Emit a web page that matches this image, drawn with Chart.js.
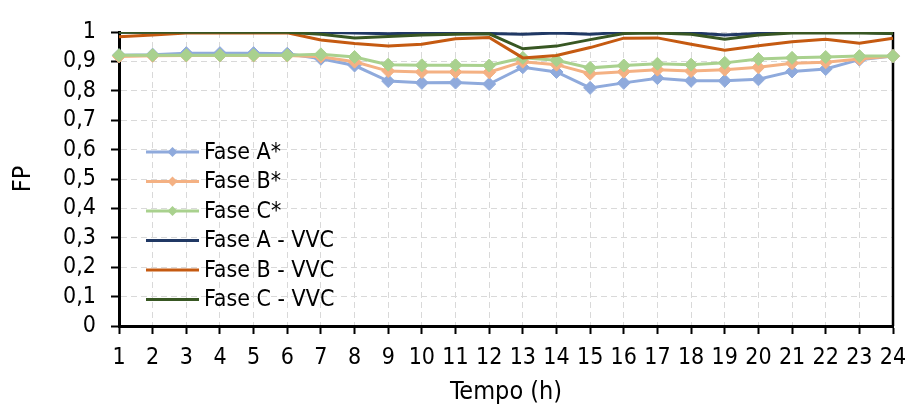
<!DOCTYPE html>
<html>
<head>
<meta charset="utf-8">
<script src="https://cdn.jsdelivr.net/npm/chart.js@4.4.1/dist/chart.umd.min.js"></script>
<style>
  html, body { margin: 0; padding: 0; background: #fff; }
  #wrap { width: 909px; height: 410px; }
</style>
</head>
<body>
<div id="wrap"><canvas id="fpChart" width="909" height="410"></canvas></div>
<script>
// Hours of the day
const hours = ['1','2','3','4','5','6','7','8','9','10','11','12','13','14','15','16','17','18','19','20','21','22','23','24'];

// Power factor per phase, base case
const faseA = [0.921,0.923,0.928,0.928,0.928,0.926,0.909,0.886,0.833,0.827,0.828,0.823,0.880,0.864,0.810,0.827,0.843,0.834,0.834,0.839,0.866,0.874,0.906,0.918];
const faseB = [0.917,0.919,0.920,0.920,0.920,0.920,0.916,0.899,0.867,0.864,0.864,0.863,0.899,0.889,0.858,0.865,0.872,0.867,0.872,0.880,0.894,0.897,0.908,0.918];
const faseC = [0.921,0.921,0.921,0.921,0.921,0.921,0.924,0.915,0.889,0.887,0.887,0.886,0.912,0.904,0.878,0.886,0.892,0.889,0.895,0.908,0.912,0.915,0.918,0.918];

// Power factor per phase with VVC
const faseAvvc = [0.999,0.999,0.999,0.999,0.999,0.999,0.999,0.997,0.994,0.997,0.997,0.995,0.992,0.997,0.992,0.999,0.998,0.997,0.990,0.995,0.999,0.999,0.999,0.995];
const faseBvvc = [0.984,0.990,0.997,0.997,0.997,0.997,0.973,0.961,0.952,0.958,0.977,0.981,0.912,0.920,0.947,0.979,0.980,0.958,0.938,0.953,0.967,0.975,0.962,0.979];
const faseCvvc = [0.999,0.999,0.999,0.999,0.999,0.999,0.992,0.980,0.985,0.990,0.992,0.994,0.943,0.952,0.974,0.995,0.997,0.992,0.975,0.990,0.997,0.997,0.997,0.995];

const yTicks = [0, 0.1, 0.2, 0.3, 0.4, 0.5, 0.6, 0.7, 0.8, 0.9, 1];

const FONT = '"DejaVu Sans Condensed", "Liberation Sans Narrow", sans-serif';

const seriesDefs = [
  { label: 'Fase A*', data: faseA, color: '#8faadc', marker: true },
  { label: 'Fase B*', data: faseB, color: '#f4b183', marker: true },
  { label: 'Fase C*', data: faseC, color: '#a9d18e', marker: true },
  { label: 'Fase A - VVC', data: faseAvvc, color: '#203864', marker: false },
  { label: 'Fase B - VVC', data: faseBvvc, color: '#c55a11', marker: false },
  { label: 'Fase C - VVC', data: faseCvvc, color: '#385723', marker: false }
];

const datasets = seriesDefs.map((s, i) => ({
  label: s.label,
  data: s.data,
  borderColor: s.color,
  backgroundColor: s.color,
  borderWidth: 3,
  tension: 0,
  pointStyle: 'rectRot',
  pointRadius: s.marker ? 6.5 : 0,
  pointBorderWidth: 1,
  pointHoverRadius: 0,
  order: seriesDefs.length - i // later series painted on top
}));

// Legend drawn inside the plot, upper left
const insideLegend = {
  id: 'insideLegend',
  afterDraw(chart) {
    const ctx = chart.ctx;
    const x0 = 146, x1 = 199, tx = 204, y0 = 152, step = 29.5;
    ctx.save();
    ctx.font = '23px ' + FONT;
    ctx.textBaseline = 'middle';
    seriesDefs.forEach((s, i) => {
      const y = y0 + i * step;
      ctx.strokeStyle = s.color;
      ctx.lineWidth = 3;
      ctx.beginPath();
      ctx.moveTo(x0, y);
      ctx.lineTo(x1, y);
      ctx.stroke();
      if (s.marker) {
        ctx.fillStyle = s.color;
        ctx.beginPath();
        const cx = (x0 + x1) / 2;
        ctx.moveTo(cx, y - 5);
        ctx.lineTo(cx + 5, y);
        ctx.lineTo(cx, y + 5);
        ctx.lineTo(cx - 5, y);
        ctx.closePath();
        ctx.fill();
      }
      ctx.fillStyle = '#000';
      ctx.fillText(s.label, tx, y + 1);
    });
    ctx.restore();
  }
};

// Right-hand frame line
const rightFrame = {
  id: 'rightFrame',
  beforeDatasetsDraw(chart) {
    const a = chart.chartArea;
    const ctx = chart.ctx;
    ctx.save();
    ctx.strokeStyle = '#000';
    ctx.lineWidth = 2.5;
    ctx.beginPath();
    ctx.moveTo(a.right, a.top);
    ctx.lineTo(a.right, a.bottom);
    ctx.stroke();
    ctx.restore();
  }
};

new Chart(document.getElementById('fpChart'), {
  type: 'line',
  data: { labels: hours, datasets: datasets },
  plugins: [insideLegend, rightFrame],
  options: {
    responsive: false,
    animation: false,
    layout: { padding: { top: 32, right: 16, left: 0, bottom: 0 } },
    plugins: {
      legend: { display: false },
      tooltip: { enabled: false }
    },
    scales: {
      x: {
        type: 'category',
        offset: false,
        grid: {
          color: '#d9d9d9',
          lineWidth: 1,
          tickLength: 8,
          tickColor: '#000',
          tickWidth: 2
        },
        border: { color: '#000', width: 3, dash: [6, 4] },
        ticks: {
          color: '#000',
          font: { family: FONT, size: 23 },
          padding: 10,
          maxRotation: 0,
          autoSkip: false
        },
        title: {
          display: true,
          text: 'Tempo (h)',
          color: '#000',
          font: { family: FONT, size: 25 },
          padding: { top: 0, bottom: 3 }
        },
        afterFit(s) { s.height = 84; s.paddingLeft = 0; s.paddingRight = 0; }
      },
      y: {
        min: 0,
        max: 1,
        afterBuildTicks(s) { s.ticks = yTicks.map(v => ({ value: v })); },
        grid: {
          color: '#d9d9d9',
          lineWidth: 1,
          tickLength: 8,
          tickColor: '#000',
          tickWidth: 2
        },
        border: { color: '#000', width: 3, dash: [6, 4] },
        ticks: {
          color: '#000',
          font: { family: FONT, size: 23 },
          padding: 15,
          autoSkip: false,
          callback: v => (v === 0 || v === 1) ? String(v) : v.toFixed(1).replace('.', ',')
        },
        title: {
          display: true,
          text: 'FP',
          color: '#000',
          font: { family: FONT, size: 25 },
          padding: { top: 8, bottom: 0 }
        },
        afterFit(s) { s.width = 119; s.paddingTop = 0; s.paddingBottom = 0; }
      }
    }
  }
});
</script>
</body>
</html>
